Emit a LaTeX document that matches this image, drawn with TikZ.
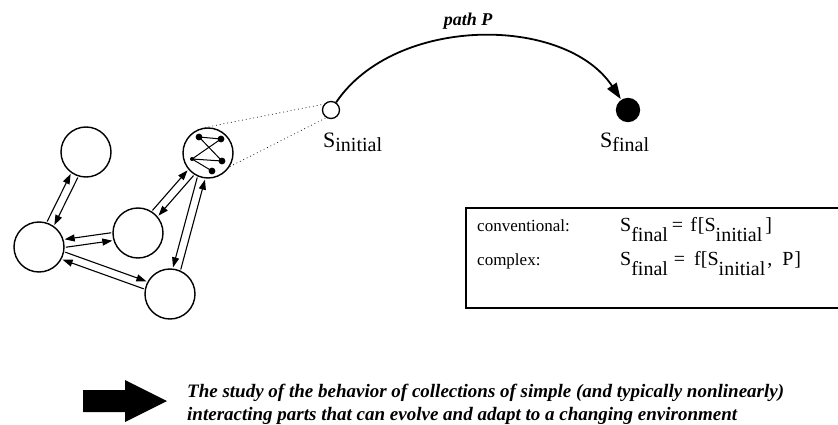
\documentclass[tikz,border=0pt]{standalone}
\usepackage{fontspec}
\setmainfont{Liberation Serif}
\usepackage{tikz}
\usetikzlibrary{arrows.meta, positioning, calc}
\tikzstyle{cell} = [circle, draw=black, line width=1.4pt, minimum size=50pt, inner sep=0pt]
\tikzstyle{link} = [line width=1.1pt, -{Triangle[length=10pt,width=7pt]}, shorten <=26.5pt, shorten >=26.5pt]
\tikzstyle{state} = [circle, draw=black, line width=1.3pt, inner sep=0pt]
\tikzstyle{zoomline} = [line width=0.7pt, dash pattern=on 0.8pt off 3pt]
\tikzstyle{label} = [inner sep=0pt, anchor=base west]
\newcommand\lowtext[2]{\raisebox{-#1}{#2}}
\newcommand\boxsub[1]{\lowtext{10pt}{\fontsize{20}{20}\selectfont #1}}

\begin{document}
\begin{tikzpicture}[x=1pt, y=-1pt]
	\useasboundingbox (0,0) rectangle (838,425);
	
	% the network of parts
	\node (top) [cell] at (86,152) {};
	\node (left) [cell] at (39,247) {};
	\node (mid) [cell] at (138,233) {};
	\node (bot) [cell] at (170,294) {};
	\node (net) [cell] at (208,153) {};
	
	\foreach \a/\b/\p/\q in {left/top/90/-90, left/mid/-90/90, left/bot/90/-90, mid/net/90/-90, net/bot/-90/90} {
		\draw [link] ($(\a)!4pt!\p:(\b)$) -- ($(\b)!4pt!\q:(\a)$);
		\draw [link] ($(\b)!4pt!\p:(\a)$) -- ($(\a)!4pt!\q:(\b)$);
	}
	
	% small graph inside one part
	\coordinate (na) at ($(net)+(-9,-16)$);
	\coordinate (nb) at ($(net)+(13,-14)$);
	\coordinate (nc) at ($(net)+(14,8)$);
	\coordinate (nd) at ($(net)+(4,18)$);
	\coordinate (ne) at ($(net)+(-16,6)$);
	\draw [line width=1pt] (na) -- (nb) (na) -- (nc) (nb) -- (ne) (ne) -- (nc) (ne) -- (nd);
	\foreach \n in {na, nb, nc, nd} \fill (\n) circle (3.4pt);
	\fill (ne) circle (2pt);
	
	% states and path
	\node (sinit) [state, minimum size=17pt, fill=white] at (331,110) {};
	\node (sfinal) [state, minimum size=23pt, fill=black] at (628,110) {};
	\draw [zoomline] (net.97) -- (sinit.140);
	\draw [zoomline] (net.-32) -- (sinit.-122);
	\draw [line width=1.8pt, -{Triangle[length=16pt,width=11pt]}, shorten >=1pt]
		(sinit) .. controls (395,15) and (565,15) .. (sfinal);
	\node (pathlbl) at (468,21) {\fontsize{18}{18}\selectfont\bfseries\itshape path P};
	\node (sinitlbl) [label] at (323,147) {\fontsize{22}{22}\selectfont S\lowtext{5pt}{\fontsize{20}{20}\selectfont initial}};
	\node (sfinallbl) [label] at (600,147) {\fontsize{22}{22}\selectfont S\lowtext{5pt}{\fontsize{20}{20}\selectfont final}};
	
	% formula box
	\draw [line width=1.1pt] (850,208) -- (466,208) -- (466,308) -- (850,308);
	\node (conv) [label] at (477,231) {\fontsize{17}{17}\selectfont conventional:};
	\node (cplx) [label] at (477,265) {\fontsize{17}{17}\selectfont complex:};
	\node (convf) [label] at (620,231) {\fontsize{20}{20}\selectfont S\boxsub{final}\hspace{4pt}=\hspace{7pt}f\hspace{1pt}[S\boxsub{initial}\hspace{3pt}]};
	\node (cplxf) [label] at (620,265) {\fontsize{20}{20}\selectfont S\boxsub{final}\hspace{6pt}=\hspace{9pt}f[S\boxsub{initial}\hspace{2pt},\hspace{10pt}P\hspace{1pt}]};
	
	% conclusion
	\fill (83,390) -- (125,390) -- (125,380) -- (167,401) -- (125,422) -- (125,412) -- (83,412) -- cycle;
	\node (studyA) [label] at (187,397) {\fontsize{19}{19}\selectfont\bfseries\itshape The study of the behavior of collections of simple (and typically nonlinearly)};
	\node (studyB) [label] at ($(studyA.base west)+(0,23)$) {\fontsize{19}{19}\selectfont\bfseries\itshape interacting parts that can evolve and adapt to a changing environment};
\end{tikzpicture}
\end{document}
